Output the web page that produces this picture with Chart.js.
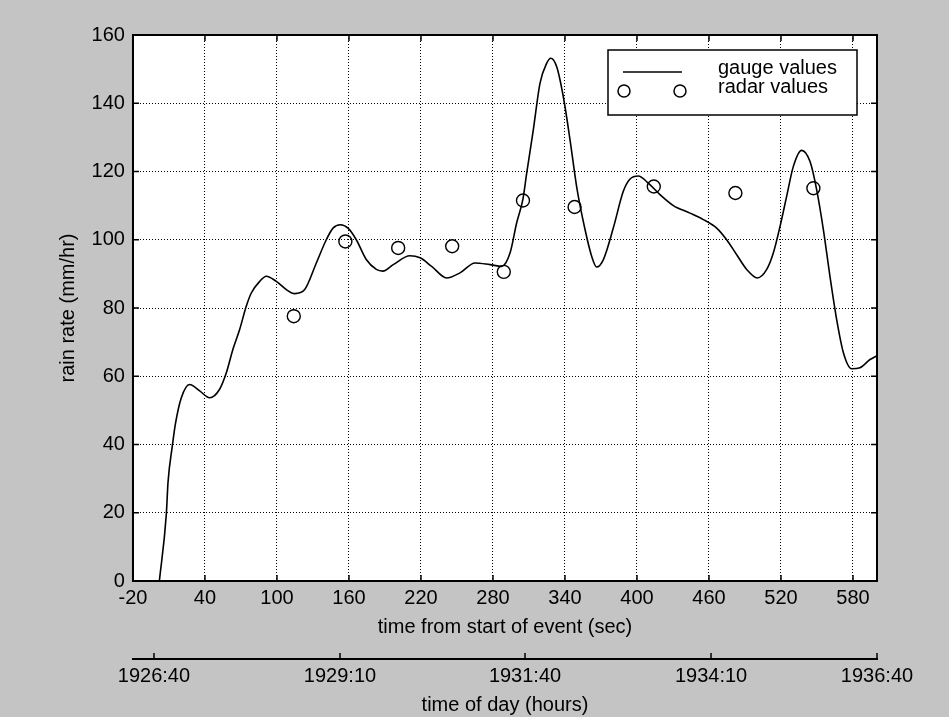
<!DOCTYPE html>
<html>
<head>
<meta charset="utf-8">
<script src="https://cdn.jsdelivr.net/npm/chart.js@4.4.1/dist/chart.umd.min.js"></script>
<style>
  html, body { margin: 0; padding: 0; background: #c4c4c4; }
  #wrap { width: 949px; height: 717px; }
</style>
</head>
<body>
<div id="wrap"><canvas id="grafico"></canvas></div>
<script>
// gauge curve (time from start in s, rain rate in mm/hr)
const gaugeTime = [2, 7.8, 9.2, 12.8, 15.3, 20.3, 27.2, 35.6, 43.9, 52.2, 57.8, 63.3, 68.9, 74.4, 78.6, 85.6,
  91.1, 99.4, 107.8, 114.7, 123.1, 132.8, 141.1, 146.7, 152.8, 159.2, 166.1, 174.4, 182.8, 188.3, 196.9,
  210.8, 219.2, 228.9, 241.4, 252.5, 265, 277.5, 287.2, 294.2, 299.7, 305, 308.1, 313.6, 319.2, 324.7,
  328.1, 333.1, 338.6, 344.2, 349.7, 356.7, 362.2, 366.4, 372, 380.3, 388.6, 394.2, 401.1, 409.4, 419.2,
  430.3, 444.2, 455.3, 466.4, 474.7, 483.1, 491.4, 500.3, 508.1, 513.6, 519.2, 524.7, 530.3, 537.2,
  544.2, 549.7, 555.3, 560.8, 566.4, 572, 578.9, 585.8, 594.2, 600];
const gaugeRate = [0, 19.6, 28.9, 39.6, 45.9, 53.7, 57.6, 55.7, 53.7, 56.2, 61.0, 67.9, 73.7, 80.5, 84.4, 87.8,
  89.3, 87.8, 85.4, 84.2, 85.4, 93.2, 100.0, 103.4, 104.4, 103.4, 100.0, 94.2, 91.3, 90.8, 92.7,
  95.3, 94.7, 92.2, 88.8, 90.3, 93.2, 92.7, 92.2, 96.1, 104.9, 112, 119.5, 132.2, 145.9, 151.7,
  153.2, 150.7, 141.9, 129.3, 115.6, 103.0, 95.2, 92.0, 94.2, 103.5, 114.2, 117.8, 118.7, 116.6, 113.2,
  110, 107.8, 105.9, 103.4, 100, 95.6, 91.3, 88.8, 91.3, 96.1, 103.9, 112.7, 121.5, 126.2,
  122.9, 114.7, 103, 89.3, 76.6, 66.9, 62.2, 62.5, 64.9, 66];

// radar samples
const radarTime = [114, 157, 201, 246, 289, 305, 348, 414, 482, 547];
const radarRate = [77.6, 99.5, 97.6, 98.1, 90.6, 111.5, 109.6, 115.6, 113.7, 115.1];

// tick values
const secTicks = [-20, 40, 100, 160, 220, 280, 340, 400, 460, 520, 580];
const rateTicks = [0, 20, 40, 60, 80, 100, 120, 140, 160];
const dayTickPos = [-2.5, 152.5, 306.7, 461.7, 600];
const dayTickLabels = ['1926:40', '1929:10', '1931:40', '1934:10', '1936:40'];

const fuente = { family: "'Liberation Sans', Arial, sans-serif", size: 20 };

// fondo blanco del area + marco con marcas hacia dentro
const marco = {
  id: 'marco',
  beforeDraw(chart) {
    const { ctx, chartArea: a } = chart;
    ctx.save();
    ctx.fillStyle = '#ffffff';
    ctx.fillRect(a.left, a.top, a.right - a.left, a.bottom - a.top);
    ctx.restore();
  },
  afterDraw(chart) {
    const { ctx, chartArea: a, scales } = chart;
    ctx.save();
    ctx.strokeStyle = '#000';
    ctx.lineWidth = 1.5;
    ctx.beginPath();
    scales.x.ticks.forEach(t => {
      const px = scales.x.getPixelForValue(t.value);
      ctx.moveTo(px, a.bottom); ctx.lineTo(px, a.bottom - 6);
      ctx.moveTo(px, a.top); ctx.lineTo(px, a.top + 6);
    });
    scales.y.ticks.forEach(t => {
      const py = scales.y.getPixelForValue(t.value);
      ctx.moveTo(a.left, py); ctx.lineTo(a.left + 6, py);
      ctx.moveTo(a.right, py); ctx.lineTo(a.right - 6, py);
    });
    const x2 = scales.x2;
    x2.ticks.forEach(t => {
      const px = x2.getPixelForValue(t.value);
      ctx.moveTo(px, x2.top); ctx.lineTo(px, x2.top - 6);
    });
    ctx.stroke();
    ctx.lineWidth = 2;
    ctx.strokeRect(a.left, a.top, a.right - a.left, a.bottom - a.top);
    ctx.restore();
  }
};

// leyenda dentro del area, arriba a la derecha
const leyenda = {
  id: 'leyenda',
  afterDatasetsDraw(chart) {
    const { ctx, chartArea: a } = chart;
    const w = 249, h = 65;
    const x0 = a.right - 20 - w, y0 = a.top + 15;
    ctx.save();
    ctx.fillStyle = '#fff';
    ctx.fillRect(x0, y0, w, h);
    ctx.strokeStyle = '#000';
    ctx.lineWidth = 1.5;
    ctx.strokeRect(x0, y0, w, h);
    ctx.beginPath();
    ctx.moveTo(x0 + 15, y0 + 22);
    ctx.lineTo(x0 + 74, y0 + 22);
    ctx.stroke();
    [x0 + 16, x0 + 72].forEach(cx => {
      ctx.beginPath();
      ctx.arc(cx, y0 + 41, 6, 0, Math.PI * 2);
      ctx.stroke();
    });
    ctx.fillStyle = '#000';
    ctx.font = "20px 'Liberation Sans', Arial, sans-serif";
    ctx.textBaseline = 'middle';
    ctx.fillText(chart.data.datasets[0].label, x0 + 110, y0 + 18);
    ctx.fillText(chart.data.datasets[1].label, x0 + 110, y0 + 37);
    ctx.restore();
  }
};

const datosGauge = gaugeTime.map((t, i) => ({ x: t, y: gaugeRate[i] }));
const datosRadar = radarTime.map((t, i) => ({ x: t, y: radarRate[i] }));

new Chart(document.getElementById('grafico'), {
  type: 'line',
  data: {
    datasets: [
      {
        label: 'gauge values',
        data: datosGauge,
        borderColor: '#000',
        borderWidth: 1.6,
        pointRadius: 0,
        cubicInterpolationMode: 'monotone',
        fill: false
      },
      {
        label: 'radar values',
        data: datosRadar,
        showLine: false,
        pointStyle: 'circle',
        pointRadius: 6.5,
        pointBorderWidth: 1.4,
        pointBorderColor: '#000',
        pointBackgroundColor: 'rgba(0,0,0,0)'
      }
    ]
  },
  options: {
    responsive: true,
    maintainAspectRatio: false,
    animation: false,
    clip: true,
    layout: { padding: { left: 56, right: 72, top: 35, bottom: 0 } },
    plugins: { legend: { display: false }, tooltip: { enabled: false } },
    scales: {
      x: {
        type: 'linear',
        min: -20,
        max: 600,
        weight: 0,
        afterBuildTicks: s => { s.ticks = secTicks.map(v => ({ value: v })); },
        ticks: { color: '#000', font: fuente, padding: 5, autoSkip: false, maxRotation: 0 },
        grid: { color: '#000', lineWidth: 1, drawTicks: false },
        border: { display: true, color: '#000', width: 2, dash: [1, 2] },
        title: { display: true, text: 'time from start of event (sec)', color: '#000', font: fuente, padding: { top: 0, bottom: 20 } }
      },
      x2: {
        type: 'linear',
        position: 'bottom',
        min: -20,
        max: 600,
        weight: 1,
        afterBuildTicks: s => { s.ticks = dayTickPos.map(v => ({ value: v })); },
        ticks: {
          color: '#000', font: fuente, padding: 5, autoSkip: false, maxRotation: 0,
          callback: (v, i) => dayTickLabels[i]
        },
        grid: { display: false, drawTicks: false },
        border: { display: true, color: '#000', width: 2 },
        title: { display: true, text: 'time of day (hours)', color: '#000', font: fuente, padding: { top: 0, bottom: 0 } }
      },
      y: {
        min: 0,
        max: 160,
        afterBuildTicks: s => { s.ticks = rateTicks.map(v => ({ value: v })); },
        ticks: { color: '#000', font: fuente, padding: 8 },
        grid: { color: '#000', lineWidth: 1, drawTicks: false },
        border: { display: true, color: '#000', width: 2, dash: [1, 2] },
        title: { display: true, text: 'rain rate (mm/hr)', color: '#000', font: fuente, padding: { top: 0, bottom: 3.6 } }
      }
    }
  },
  plugins: [marco, leyenda]
});
</script>
</body>
</html>
